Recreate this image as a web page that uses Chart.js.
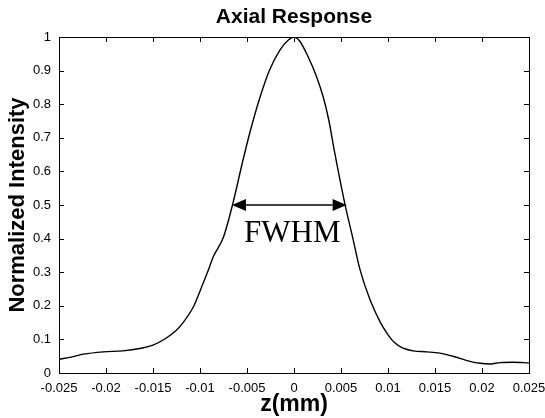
<!DOCTYPE html>
<html>
<head>
<meta charset="utf-8">
<script src="https://cdn.jsdelivr.net/npm/chart.js@4/dist/chart.umd.min.js"></script>
<style>
  html, body { margin: 0; padding: 0; background: #fff; }
  #wrap { width: 545px; height: 418px; }
</style>
</head>
<body>
<div id="wrap"><canvas id="chart"></canvas></div>
<script>
// values
const zValues = [-0.025, -0.0236, -0.0224, -0.0203, -0.0182, -0.0164, -0.015, -0.0137, -0.0126, -0.0118,
  -0.0107, -0.0097, -0.0091, -0.0086, -0.0075, -0.0065, -0.0055, -0.0047, -0.0036, -0.0026,
  -0.0015, -0.0006, 0, 0.0006, 0.0015, 0.0024, 0.0031, 0.0037, 0.0043, 0.0054,
  0.0063, 0.007, 0.0081, 0.0092, 0.0099, 0.0106, 0.0116, 0.0127, 0.0141, 0.0155,
  0.017, 0.0184, 0.0198, 0.0209, 0.0219, 0.0233, 0.025];
const intensity = [0.041, 0.048, 0.056, 0.063, 0.066, 0.073, 0.083, 0.102, 0.125, 0.15,
  0.197, 0.265, 0.307, 0.345, 0.405, 0.505, 0.625, 0.715, 0.822, 0.902,
  0.961, 0.991, 1.0, 0.988, 0.941, 0.882, 0.822, 0.753, 0.66, 0.505,
  0.396, 0.31, 0.217, 0.15, 0.118, 0.093, 0.074, 0.066, 0.063, 0.059,
  0.049, 0.037, 0.029, 0.027, 0.031, 0.032, 0.03];

const xTickValues = [-0.025, -0.02, -0.015, -0.01, -0.005, 0, 0.005, 0.01, 0.015, 0.02, 0.025];
const xTickLabels = ['-0.025', '-0.02', '-0.015', '-0.01', '-0.005', '0', '0.005', '0.01', '0.015', '0.02', '0.025'];
const yTickValues = [0, 0.1, 0.2, 0.3, 0.4, 0.5, 0.6, 0.7, 0.8, 0.9, 1];
const yTickLabels = ['0', '0.1', '0.2', '0.3', '0.4', '0.5', '0.6', '0.7', '0.8', '0.9', '1'];

// FWHM marker
const fwhmLevel = 0.5;
const fwhmLeft = -0.0066;
const fwhmRight = 0.0056;

const chartTitle = 'Axial Response';

const points = zValues.map((z, i) => ({ x: z, y: intensity[i] }));

// title over the axes, box, inward ticks and the FWHM arrow
const matlabAxes = {
  id: 'matlabAxes',
  afterDatasetsDraw(chart) {
    const { ctx, chartArea: a, scales: { x, y } } = chart;
    ctx.save();
    ctx.fillStyle = '#000';
    ctx.font = 'bold 21px "Liberation Sans", Arial, sans-serif';
    ctx.textAlign = 'center';
    ctx.textBaseline = 'middle';
    ctx.fillText(chartTitle, (a.left + a.right) / 2, 17);

    ctx.strokeStyle = '#000';
    ctx.lineWidth = 1;
    ctx.strokeRect(a.left + 0.5, a.top + 0.5, a.right - a.left, a.bottom - a.top);
    ctx.beginPath();
    xTickValues.forEach(v => {
      const px = Math.round(x.getPixelForValue(v)) + 0.5;
      ctx.moveTo(px, a.bottom); ctx.lineTo(px, a.bottom - 5);
      ctx.moveTo(px, a.top); ctx.lineTo(px, a.top + 5);
    });
    yTickValues.forEach(v => {
      const py = Math.round(y.getPixelForValue(v)) + 0.5;
      ctx.moveTo(a.left, py); ctx.lineTo(a.left + 5, py);
      ctx.moveTo(a.right, py); ctx.lineTo(a.right - 5, py);
    });
    ctx.stroke();

    // double arrow
    const x1 = x.getPixelForValue(fwhmLeft);
    const x2 = x.getPixelForValue(fwhmRight);
    const yy = y.getPixelForValue(fwhmLevel);
    const head = 14, half = 6;
    ctx.lineWidth = 1.5;
    ctx.beginPath();
    ctx.moveTo(x1 + head, yy); ctx.lineTo(x2 - head, yy);
    ctx.stroke();
    ctx.beginPath();
    ctx.moveTo(x1, yy); ctx.lineTo(x1 + head, yy - half); ctx.lineTo(x1 + head, yy + half); ctx.closePath();
    ctx.moveTo(x2, yy); ctx.lineTo(x2 - head, yy - half); ctx.lineTo(x2 - head, yy + half); ctx.closePath();
    ctx.fill();

    ctx.font = '31px "Liberation Serif", serif';
    ctx.textBaseline = 'alphabetic';
    ctx.fillText('FWHM', (x1 + x2) / 2 + 3, yy + 37);
    ctx.restore();
  }
};

new Chart(document.getElementById('chart'), {
  type: 'line',
  data: {
    datasets: [{
      data: points,
      borderColor: '#000',
      borderWidth: 1.4,
      pointRadius: 0,
      fill: false,
      cubicInterpolationMode: 'monotone'
    }]
  },
  options: {
    responsive: true,
    maintainAspectRatio: false,
    animation: false,
    layout: { padding: { left: 0, right: 16, top: 37, bottom: 0 } },
    plugins: {
      legend: { display: false },
      tooltip: { enabled: false },
      title: { display: false }
    },
    scales: {
      x: {
        type: 'linear',
        min: -0.025,
        max: 0.025,
        afterBuildTicks: s => { s.ticks = xTickValues.map(v => ({ value: v })); },
        afterFit: s => { s.height = 45; s.paddingLeft = 0; s.paddingRight = 0; },
        grid: { display: false, drawTicks: false },
        border: { display: false },
        ticks: {
          color: '#000',
          padding: 8,
          maxRotation: 0,
          autoSkip: false,
          font: { family: '"Liberation Sans", Arial, sans-serif', size: 13 },
          callback: (v, i) => xTickLabels[i]
        },
        title: {
          display: true,
          text: 'z(mm)',
          color: '#000',
          font: { family: '"Liberation Sans", Arial, sans-serif', size: 23, weight: 'bold' },
          padding: { top: 0, bottom: 0 }
        }
      },
      y: {
        min: 0,
        max: 1,
        afterBuildTicks: s => { s.ticks = yTickValues.map(v => ({ value: v })); },
        afterFit: s => { s.width = 59; s.paddingTop = 0; s.paddingBottom = 0; },
        grid: { display: false, drawTicks: false },
        border: { display: false },
        ticks: {
          color: '#000',
          padding: 8,
          autoSkip: false,
          font: { family: '"Liberation Sans", Arial, sans-serif', size: 13 },
          callback: (v, i) => yTickLabels[i]
        },
        title: {
          display: true,
          text: 'Normalized Intensity',
          color: '#000',
          font: { family: '"Liberation Sans", Arial, sans-serif', size: 22, weight: 'bold' },
          padding: { top: 5, bottom: 0 }
        }
      }
    }
  },
  plugins: [matlabAxes]
});
</script>
</body>
</html>
